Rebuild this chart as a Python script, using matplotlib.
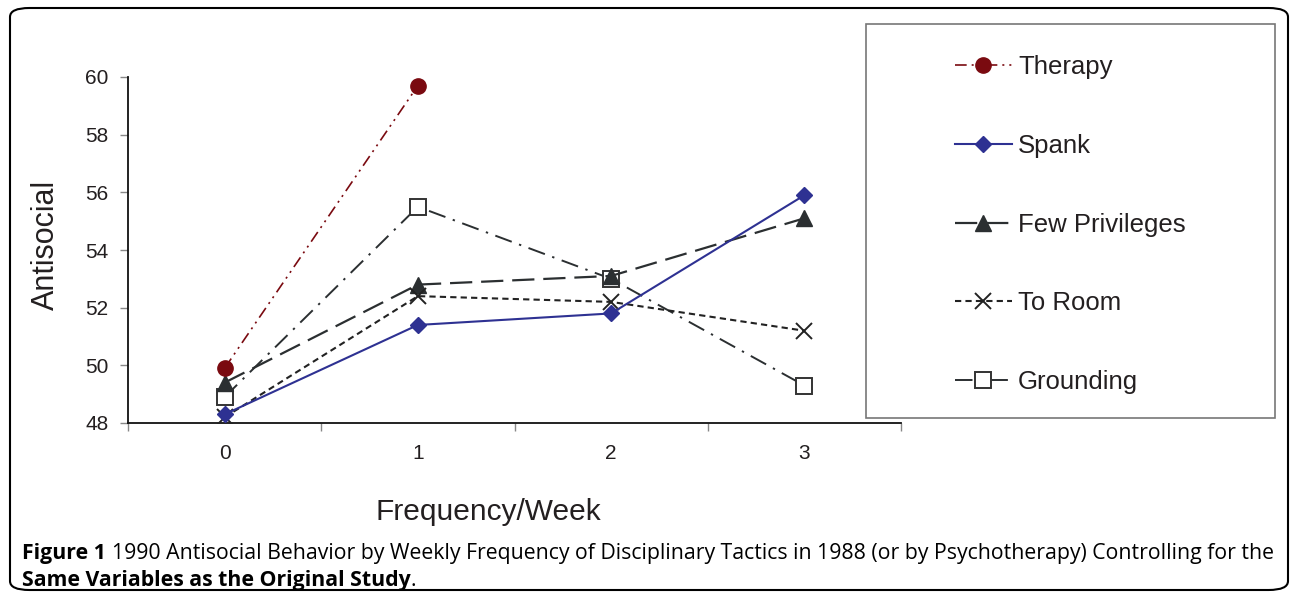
import matplotlib
matplotlib.use("Agg")
import matplotlib.pyplot as plt
from matplotlib.patches import FancyBboxPatch, Rectangle

# data
freq = [0, 1, 2, 3]
therapy = [49.9, 59.7]
spank = [48.3, 51.4, 51.8, 55.9]
few_privileges = [49.4, 52.8, 53.1, 55.1]
to_room = [48.2, 52.4, 52.2, 51.2]
grounding = [48.9, 55.5, 53.0, 49.3]
y_ticks = [48, 50, 52, 54, 56, 58, 60]

plt.rcParams['font.family'] = ['Liberation Sans', 'DejaVu Sans']

fig = plt.figure(figsize=(12.9, 5.96), dpi=100)
ax = fig.add_axes([128 / 1290, 1 - 423 / 596, 773 / 1290, 346 / 596])

lw = 1.2
ax.plot(freq[:2], therapy, color='#7a0a10', lw=lw, linestyle=(0, (7, 3, 1.2, 3, 1.2, 3)),
        marker='o', markersize=11, label='Therapy', zorder=5)
ax.plot(freq, spank, color='#2e3192', lw=1.5, linestyle='-',
        marker='D', markersize=8, label='Spank', zorder=4)
ax.plot(freq, few_privileges, color='#2b2f31', lw=1.6, linestyle=(0, (10, 4)),
        marker='^', markersize=11, label='Few Privileges', zorder=3)
ax.plot(freq, to_room, color='#222222', lw=1.5, linestyle=(0, (3, 2)),
        marker='x', markersize=11, markeredgewidth=1.4, label='To Room', zorder=3)
ax.plot(freq, grounding, color='#2b2f31', lw=1.4, linestyle=(0, (9, 4, 1.2, 4)),
        marker='s', markersize=11, markerfacecolor='white', markeredgecolor='#333333',
        markeredgewidth=1.4, label='Grounding', zorder=2)

ax.set_xlim(-0.5, 3.5)
ax.set_ylim(48, 60)
ax.set_yticks(y_ticks)
ax.set_xticks(freq)
ax.set_xticks([-0.5, 0.5, 1.5, 2.5, 3.5], minor=True)
ax.tick_params(axis='x', which='major', length=0, pad=15, labelsize=15, labelcolor='#231f20')
ax.tick_params(axis='x', which='minor', length=6, color='#888888', width=1)
ax.tick_params(axis='y', length=6, color='#888888', width=1, pad=8, labelsize=15, labelcolor='#231f20')
for s in ['top', 'right']:
    ax.spines[s].set_visible(False)
ax.spines['left'].set_color('#111111')
ax.spines['bottom'].set_color('#111111')
ax.spines['left'].set_linewidth(1.3)
ax.spines['bottom'].set_linewidth(1.3)

ax.set_ylabel('Antisocial', fontsize=22, color='#231f20')
ax.yaxis.set_label_coords(-0.087, 0.515)
ax.set_xlabel('Frequency/Week', fontsize=21.5, color='#231f20')
ax.xaxis.set_label_coords(0.466, -0.218)

# legend box
fig.patches.append(Rectangle((866 / 1290, 1 - 418 / 596), 409 / 1290, 394 / 596,
                             transform=fig.transFigure, facecolor='white',
                             edgecolor='#777777', lw=1.2, zorder=0))
leg = fig.legend(loc='upper left', bbox_to_anchor=(932 / 1290, 1 - 32 / 596),
                 frameon=False, fontsize=18.5, labelspacing=2.13, handlelength=2.2,
                 handletextpad=0.25, labelcolor='#231f20')

# outer rounded frame
fig.patches.append(FancyBboxPatch((10 / 1290, 6 / 596), 1278 / 1290, 582 / 596,
                                  boxstyle='round,pad=0,rounding_size=0.015',
                                  transform=fig.transFigure, facecolor='none',
                                  edgecolor='black', lw=1.5))

# caption
cap_font = ['Open Sans', 'DejaVu Sans']
cap_size = 15.3
t1 = fig.text(22 / 1290, 1 - 559 / 596, 'Figure 1', fontsize=cap_size, fontweight='bold',
              family=cap_font, color='black')
fig.canvas.draw()
bb = t1.get_window_extent()
fig.text((bb.x1 + 6) / 1290, 1 - 559 / 596,
         '1990 Antisocial Behavior by Weekly Frequency of Disciplinary Tactics in 1988 '
         '(or by Psychotherapy) Controlling for the',
         fontsize=cap_size, family=cap_font, color='black')
t3 = fig.text(22 / 1290, 1 - 586 / 596, 'Same Variables as the Original Study', fontsize=cap_size,
              fontweight='bold', family=cap_font, color='black')
fig.canvas.draw()
bb3 = t3.get_window_extent()
fig.text(bb3.x1 / 1290, 1 - 586 / 596, '.', fontsize=cap_size, family=cap_font, color='black')

fig.savefig('out.png', dpi=100)
